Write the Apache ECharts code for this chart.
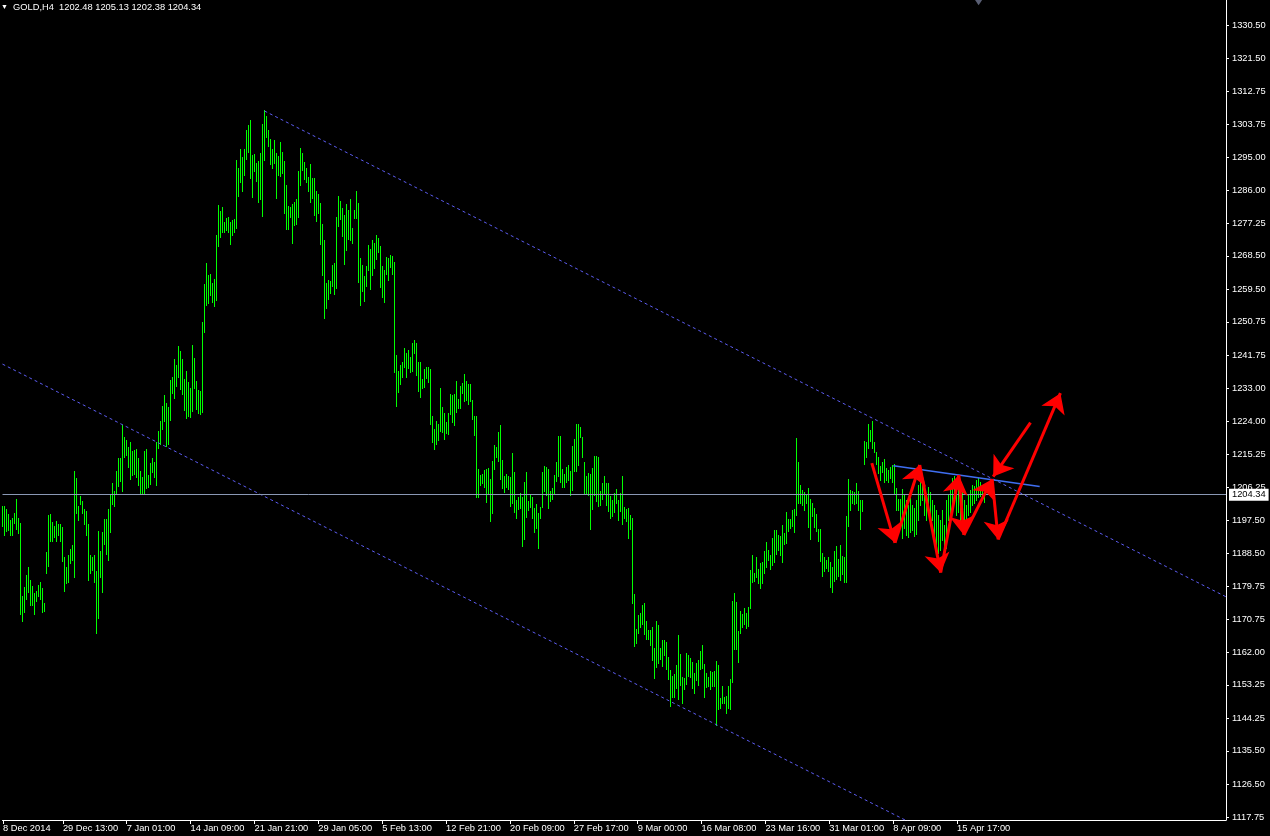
<!DOCTYPE html>
<html><head><meta charset="utf-8">
<script src="https://cdn.jsdelivr.net/npm/echarts@6/dist/echarts.min.js"></script>
<style>html,body{margin:0;padding:0;background:#000;}#c{width:1270px;height:836px;}</style>
</head><body><div id="c"></div>
<script>
// ---- data (GOLD, H4) ----
const highs = [
1201.2,1201.2,1200.5,1199.2,1197.5,1198.2,1199.4,1203.3,1198.0,1196.8,
1177.0,1179.6,1182.7,1184.9,1181.4,1179.9,1177.9,1178.4,1180.1,1181.0,
1179.3,1175.2,1189.0,1198.9,1199.2,1197.0,1195.9,1197.3,1196.4,1196.4,
1195.7,1187.5,1184.9,1188.1,1189.7,1190.8,1210.7,1208.8,1201.2,1204.0,
1202.6,1200.6,1200.0,1196.5,1188.1,1187.5,1188.1,1183.8,1194.7,1189.2,
1194.4,1197.7,1197.9,1200.5,1204.3,1207.5,1205.3,1210.7,1214.3,1214.2,
1223.0,1219.7,1219.1,1217.1,1218.5,1216.0,1216.3,1216.7,1214.2,1210.7,
1209.1,1216.0,1216.7,1209.5,1212.9,1214.2,1213.2,1218.6,1221.4,1224.1,
1228.2,1231.0,1229.0,1227.8,1235.2,1236.0,1240.8,1239.3,1244.3,1243.0,
1240.8,1235.4,1237.5,1234.7,1233.1,1244.6,1241.0,1234.9,1232.4,1232.1,
1250.7,1261.0,1266.6,1263.4,1263.6,1261.3,1262.3,1274.1,1282.1,1280.6,
1281.6,1277.7,1278.7,1278.9,1277.7,1278.2,1278.3,1294.3,1292.2,1297.2,
1295.0,1297.2,1302.4,1303.6,1305.0,
1295.6,1295.8,1293.5,1294.0,1296.0,1303.9,1307.7,1306.1,1302.3,1299.9,
1297.2,1299.6,1296.2,1295.3,1299.1,1296.5,1294.0,1287.5,1281.9,1281.7,
1282.4,1282.9,1283.8,1291.3,1297.5,1296.1,1293.7,1292.1,1289.6,1293.2,
1289.5,1289.4,1285.9,1285.1,1282.7,1277.0,1272.7,1261.3,1262.0,1261.7,
1266.0,1266.6,1278.9,1284.6,1283.2,1281.3,1279.4,1282.4,1280.9,1283.8,
1275.9,1280.8,1285.9,1282.7,1268.0,1266.1,1263.1,1265.8,1271.4,1270.4,
1272.8,1271.9,1274.1,1273.3,1271.1,1265.8,1264.7,1268.3,1267.9,1268.6,
1268.5,1266.8,1241.8,1237.6,1239.2,1240.1,1243.7,1242.5,1243.2,1241.3,
1245.2,1245.9,1245.2,1240.0,1240.0,1235.5,1238.1,1238.6,1238.6,1238.1,
1225.6,1222.0,1224.1,1223.4,1233.1,1228.0,1226.4,1223.9,1226.4,1231.3,
1231.1,1231.5,1234.9,1229.9,1233.6,1234.4,1236.7,1234.9,1234.1,1234.1,
1229.8,1225.5,1225.6,1211.3,1209.6,1210.0,1211.0,1211.1,1211.5,1208.5,
1213.4,1217.8,1217.1,1221.3,1223.0,
1213.6,1209.4,1209.9,1209.3,1209.0,1215.5,1210.4,1202.9,1203.6,1204.8,
1203.8,1207.7,1210.4,1202.7,1204.5,1203.7,1200.8,1201.8,1199.3,1200.9,
1210.4,1212.0,1211.8,1211.1,1205.3,1206.0,1209.6,1213.1,1220.1,1220.1,
1211.1,1209.9,1211.8,1212.3,1210.7,1217.4,1219.3,1223.3,1223.3,1222.5,
1219.9,1213.1,1209.3,1210.1,1209.9,1211.6,1214.7,1214.7,1214.4,1205.2,
1207.6,1209.4,1207.5,1207.5,1204.1,1202.9,1204.8,1205.9,1202.9,1204.8,
1209.3,1201.0,1200.6,1200.7,1199.0,1198.2,1177.6,1168.2,1172.0,1172.5,
1174.6,1175.2,1170.5,1168.0,1168.0,1168.8,1163.2,1170.4,1169.3,1163.1,
1165.3,1165.3,1164.7,1160.7,1157.2,1155.5,1156.1,1158.7,1166.6,1161.5,
1155.3,1155.1,1161.7,1161.3,1160.4,1159.5,1156.5,1159.2,1159.9,1162.4,
1163.9,1158.9,1156.5,1155.3,1157.0,1156.7,1156.9,1159.6,1158.7,1149.7,
1152.9,1150.1,1150.2,1152.9,1154.8,1175.8,1177.9,1175.5,1173.3,1167.8,
1173.1,1172.3,1173.8,1172.5,1174.2,
1184.1,1188.0,1183.2,1187.7,1184.3,1186.1,1186.3,1189.3,1191.6,1189.6,
1188.2,1192.6,1194.8,1194.8,1193.6,1193.2,1196.1,1194.0,1199.7,1197.8,
1197.8,1200.2,1200.5,1219.5,1213.2,1206.8,1205.6,1205.0,1204.2,1206.0,
1203.3,1202.2,1200.8,1199.1,1195.1,1195.0,1188.6,1187.7,1186.8,1187.6,
1186.2,1184.9,1189.1,1190.6,1187.0,1190.8,1187.8,1187.7,1198.6,1208.5,
1205.6,1205.4,1205.0,1207.5,1205.4,1202.9,1202.9,1218.7,1218.4,1223.2,
1221.7,1224.2,1218.6,1215.9,1214.5,1212.0,1213.2,1213.9,1211.4,1211.0,
1211.7,1212.3,1212.7,1206.0,1203.3,1203.1,1205.8,
1204.2,1202.9,1201.6,1203.4,1201.6,1200.8,1202.9,1206.9,1209.4,1208.3,
1205.6,1204.2,1206.4,1205.1,1202.9,1201.6,1200.2,1198.9,1197.5,1200.2,
1196.2,1202.9,1204.2,1206.9,1208.8,1209.4,1208.3,1205.6,1203.7,1205.1,
1202.9,1201.6,1204.2,1205.6,1206.9,1206.7,1208.3,1208.8,1207.7,1206.9,
1205.13
];
const lows = [
1195.9,1193.6,1194.7,1194.9,1193.6,1193.6,1196.6,1195.2,1194.0,1172.3,
1170.5,1172.7,1176.4,1178.1,1174.7,1174.7,1172.3,1175.7,1177.2,1176.2,
1172.7,1173.2,1183.4,1185.3,1192.0,1192.0,1192.9,1192.0,1193.6,1192.0,
1186.6,1178.5,1180.6,1180.9,1185.9,1186.9,1182.2,1199.5,1197.5,1201.7,
1199.4,1196.4,1193.6,1181.5,1183.2,1184.1,1181.0,1167.3,1171.3,1182.2,
1178.1,1191.0,1188.3,1186.7,1194.2,1201.7,1201.4,1204.9,1206.6,1207.9,
1205.2,1214.4,1215.1,1211.7,1208.6,1209.5,1210.0,1209.2,1206.8,1204.6,
1204.9,1204.4,1206.0,1206.3,1207.2,1210.5,1209.1,1206.8,1216.9,1217.9,
1222.0,1224.1,1217.3,1217.9,1224.5,1231.7,1230.3,1233.6,1236.0,1232.8,
1231.5,1227.1,1224.8,1225.4,1225.1,1226.8,1233.0,1227.4,1226.2,1225.9,
1226.5,1248.0,1255.4,1255.8,1258.1,1256.0,1254.9,1256.7,1271.2,1273.5,
1274.9,1274.9,1275.4,1274.9,1271.7,1274.0,1274.9,1276.1,1284.5,1288.3,
1286.0,1290.2,1294.6,1296.5,1289.5,
1284.4,1291.4,1288.7,1283.0,1283.7,1279.3,1294.2,1300.5,1298.0,1293.2,
1292.2,1293.3,1284.1,1290.2,1289.9,1290.7,1280.1,1275.8,1275.8,1279.0,
1272.0,1276.8,1277.0,1279.0,1287.5,1291.5,1289.1,1288.3,1286.0,1283.0,
1283.9,1279.5,1277.9,1279.9,1271.8,1263.4,1251.9,1254.6,1257.0,1258.6,
1260.5,1258.3,1259.9,1276.6,1278.4,1273.7,1266.4,1270.1,1272.9,1272.8,
1272.0,1278.7,1278.7,1261.5,1255.4,1259.0,1256.4,1260.5,1264.7,1259.5,
1263.4,1265.2,1267.7,1269.6,1260.1,1257.5,1256.2,1263.7,1262.1,1265.6,
1263.7,1237.4,1228.2,1232.0,1234.1,1235.9,1238.5,1236.0,1238.3,1237.4,
1237.6,1242.3,1236.5,1232.3,1230.7,1233.1,1233.3,1235.6,1234.7,1223.2,
1218.4,1216.7,1218.0,1219.1,1221.4,1221.1,1219.4,1220.8,1220.7,1225.9,
1223.9,1223.1,1226.6,1227.7,1227.7,1231.6,1229.6,1229.8,1228.6,1229.6,
1224.6,1220.3,1203.6,1203.6,1206.9,1207.6,1206.3,1202.4,1204.5,1197.3,
1199.5,1211.3,1214.4,1213.5,1208.5,
1206.0,1205.1,1206.3,1205.8,1201.3,1202.2,1199.8,1198.1,1200.6,1200.8,
1190.6,1192.4,1198.4,1200.2,1200.9,1198.1,1194.3,1195.5,1190.1,1198.1,
1201.1,1205.4,1204.2,1200.8,1202.7,1203.3,1204.9,1207.9,1209.3,1207.8,
1206.5,1206.5,1207.8,1208.3,1204.3,1205.6,1210.8,1210.7,1212.4,1219.9,
1214.5,1204.9,1204.6,1204.2,1195.2,1200.4,1204.3,1202.7,1201.4,1201.6,
1203.3,1204.7,1201.6,1200.0,1198.2,1198.6,1199.8,1202.2,1197.6,1199.9,
1196.4,1198.0,1197.2,1192.7,1195.2,1175.3,1163.8,1164.6,1167.3,1168.9,
1169.7,1167.0,1165.6,1165.6,1164.0,1159.8,1155.2,1158.0,1159.0,1160.1,
1158.4,1161.3,1157.5,1154.8,1147.5,1150.0,1150.1,1152.4,1149.5,1153.2,
1148.4,1152.2,1153.4,1155.5,1155.3,1152.4,1151.1,1154.5,1153.3,1157.5,
1157.9,1150.1,1152.6,1152.9,1152.0,1152.9,1152.9,1142.4,1146.7,1147.1,
1148.5,1148.3,1145.8,1147.0,1146.8,1154.0,1163.0,1170.2,1163.0,1159.5,
1167.1,1168.7,1169.7,1168.6,1169.1,
1173.8,1180.9,1181.2,1182.3,1180.7,1179.2,1180.7,1183.2,1185.0,1186.9,
1184.3,1185.4,1186.3,1188.4,1189.6,1188.1,1186.3,1191.1,1191.3,1194.6,
1195.3,1196.0,1194.2,1198.9,1202.0,1202.2,1201.5,1200.2,1202.0,1195.7,
1192.3,1198.6,1195.7,1194.6,1192.0,1186.6,1182.5,1183.9,1184.7,1183.8,
1179.5,1178.3,1181.2,1181.8,1182.5,1181.4,1183.0,1180.8,1180.8,1196.0,
1200.2,1202.0,1201.7,1202.0,1200.2,1195.0,1200.0,1212.7,1214.4,1216.8,
1218.8,1217.0,1215.8,1212.7,1210.1,1208.3,1210.5,1207.8,1208.3,1207.8,
1208.7,1207.8,1204.7,1200.2,1200.2,1196.2,1192.6,
1195.4,1193.5,1193.0,1194.3,1194.8,1193.2,1193.8,1197.5,1201.6,1202.9,
1198.9,1197.5,1199.7,1196.2,1197.5,1193.5,1190.8,1188.7,1189.5,1192.2,
1188.7,1190.0,1197.5,1198.9,1201.6,1202.9,1198.9,1199.7,1197.5,1196.2,
1195.7,1197.5,1198.9,1199.7,1201.6,1202.1,1202.9,1203.7,1204.0,1203.4,
1202.38
];

const xTickBars   = [0,30,62,94,126,158,190,222,254,286,318,350,382,414,446,478];
const xTickLabels = ['8 Dec 2014','29 Dec 13:00','7 Jan 01:00','14 Jan 09:00','21 Jan 21:00',
  '29 Jan 05:00','5 Feb 13:00','12 Feb 21:00','20 Feb 09:00','27 Feb 17:00','9 Mar 00:00',
  '16 Mar 08:00','23 Mar 16:00','31 Mar 01:00','8 Apr 09:00','15 Apr 17:00'];
const yTickValues = [1117.75,1126.50,1135.50,1144.25,1153.25,1162.00,1170.75,1179.75,1188.50,
  1197.50,1206.25,1215.25,1224.00,1233.00,1241.75,1250.75,1259.50,1268.50,1277.25,1286.00,
  1295.00,1303.75,1312.75,1321.50,1330.50];
const bidPrice = 1204.34;
const headerText = 'GOLD,H4  1202.48 1205.13 1202.38 1204.34';

// drawn objects: [bar index, price]
const channelUpper = [[131, 1307.4], [612.75, 1176.9]];
const channelLower = [[-0.25, 1239.4], [612.75, 1073.4]];
const resistanceLine = [[446.1, 1212.1], [519.4, 1206.5]];
const arrowFrom = [[435.3,1212.8],[446.9,1191.4],[459.3,1212.3],[469.8,1183.4],[478.9,1209.6],[481.4,1193.5],[495.6,1208.5],[498.6,1192.3],[514.8,1223.7]];
const arrowTo   = [[446.9,1191.4],[459.3,1212.3],[469.8,1183.4],[478.9,1209.6],[481.4,1193.5],[495.6,1208.5],[498.6,1192.3],[529.8,1231.6],[496.1,1209.2]];
const shiftMarker = [[488.8, 1336.6]];

const FONT = "'Liberation Sans',Arial,sans-serif";
const FS = 9.3;
const bars = highs.map((h, i) => [i, lows[i], h]);

const chart = echarts.init(document.getElementById('c'), null, {renderer: 'canvas'});
chart.setOption({
  backgroundColor: '#000',
  animation: false,
  title: {
    left: 1, top: 3, padding: 0,
    text: '{t|▼}  ' + headerText,
    textStyle: {color: '#fff', fontSize: FS, fontWeight: 'normal', fontFamily: FONT,
      rich: {t: {fontSize: 7, color: '#fff'}}}
  },
  grid: {left: 0, top: 0, width: 1226, height: 820},
  xAxis: {
    type: 'value', min: -0.25, max: 612.75,
    axisLine: {show: true, onZero: false, lineStyle: {color: '#fff', width: 1}},
    axisTick: {show: true, length: 4, lineStyle: {color: '#fff'}, customValues: xTickBars},
    axisLabel: {
      show: true, customValues: xTickBars, color: '#fff', fontSize: FS, fontFamily: FONT,
      align: 'left', margin: 4,
      formatter: v => { const k = xTickBars.indexOf(Math.round(v)); return k >= 0 ? xTickLabels[k] : ''; }
    },
    splitLine: {show: false}
  },
  yAxis: {
    type: 'value', position: 'right', min: 1116.94, max: 1337.216, scale: true,
    axisLine: {show: true, onZero: false, lineStyle: {color: '#fff', width: 1}},
    axisTick: {show: true, length: 3, inside: false, lineStyle: {color: '#fff'}, customValues: yTickValues},
    axisLabel: {show: true, customValues: yTickValues, color: '#fff', fontSize: FS, fontFamily: FONT,
      margin: 6, formatter: v => v.toFixed(2)},
    splitLine: {show: false}
  },
  series: [
    {
      type: 'custom', data: bars, encode: {x: 0, y: [1, 2]}, z: 3, clip: true, silent: true,
      renderItem: function (params, api) {
        const x = api.value(0), lo = api.value(1), hi = api.value(2);
        const a = api.coord([x, hi]), b = api.coord([x, lo]);
        // snap each 1px bar onto the even pixel column of its 2px slot
        const left = 2 * Math.round((a[0] - 0.5) / 2);
        const top = Math.round(a[1]);
        const h = Math.max(1, Math.round(b[1]) - top + 1);
        return {type: 'rect', shape: {x: left, y: top, width: 1, height: h},
          style: {fill: '#00ff00', stroke: null, lineWidth: 0, opacity: 1}};
      }
    },
    {type: 'line', data: [], symbol: 'none', silent: true, z: 2,
      markLine: {
        silent: true, symbol: 'none',
        lineStyle: {color: '#8a98b4', width: 1, type: 'solid'},
        label: {show: true, position: 'end', distance: 3, formatter: bidPrice.toFixed(2),
          backgroundColor: '#fff', color: '#000', fontSize: FS, fontFamily: FONT, padding: [2, 3, 1, 3]},
        data: [{yAxis: bidPrice}]
      }
    },
    {type: 'line', data: channelUpper, symbol: 'none', clip: true, z: 4, silent: true,
      lineStyle: {color: '#5c5cf0', width: 1, type: [3, 3]}},
    {type: 'line', data: channelLower, symbol: 'none', clip: true, z: 4, silent: true,
      lineStyle: {color: '#5c5cf0', width: 1, type: [3, 3]}},
    {type: 'line', data: resistanceLine, symbol: 'none', clip: true, z: 4, silent: true,
      lineStyle: {color: '#3f6ef0', width: 1.5}},
    {type: 'scatter', data: shiftMarker, symbol: 'triangle', symbolRotate: 180, symbolSize: [8, 6],
      itemStyle: {color: '#6f7590'}, silent: true, z: 4},
    {type: 'lines', coordinateSystem: 'cartesian2d', z: 6, silent: true,
      symbol: ['none', 'arrow'], symbolSize: [13, 19],
      lineStyle: {color: '#ff0000', width: 3, opacity: 1, curveness: 0},
      data: arrowFrom.map((f, i) => ({coords: [f, arrowTo[i]]}))}
  ]
});
</script></body></html>
